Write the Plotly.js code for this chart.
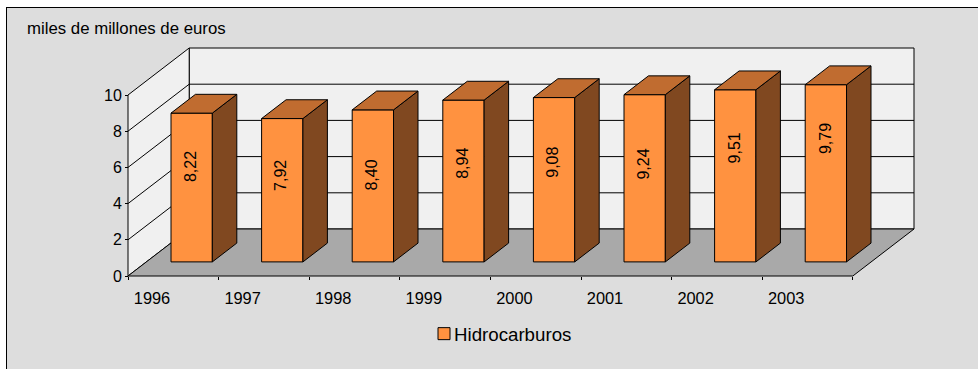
<!DOCTYPE html>
<html>
<head>
<meta charset="utf-8">
<script src="https://cdn.plot.ly/plotly-3.0.1.min.js"></script>
<style>
html,body{margin:0;padding:0;background:#fff;width:978px;height:369px;overflow:hidden}
#panel{position:absolute;left:6px;top:7px;right:0;bottom:0;background:#DDDDDD;border-left:1.5px solid #000;border-top:1.5px solid #000}
#chart{position:absolute;left:0;top:0;width:978px;height:369px}
</style>
</head>
<body>
<div id="panel"></div>
<div id="chart"></div>
<script>
// ----- data -----
const years = ['1996','1997','1998','1999','2000','2001','2002','2003'];
const hidrocarburos = [8.22,7.92,8.40,8.94,9.08,9.24,9.51,9.79];
const valueTicks = [0,2,4,6,8,10];
const seriesName = 'Hidrocarburos';
const unitTitle = 'miles de millones de euros';

// ----- oblique projection (in axis units) -----
const pxX = 90.6, pxY = 18.1, pad = 10;
const plotL = 128, plotR = 914, plotT = 48, plotB = 276;
const n = years.length, yMax = 10;
const DX = (plotR - plotL - n * pxX) / pxX;      // wall depth along x
const DY = (plotB - plotT - yMax * pxY) / pxY;   // wall depth along y
const barW = 0.456, nearT = 0.30, farT = 0.70;
const base = DY * nearT, bdx = DX * (farT - nearT), bdy = DY * (farT - nearT);
const barX = years.map((_, i) => i + 0.5 + DX * nearT);
const labelLevel = [6.05,5.54,5.59,6.22,6.31,6.19,7.06,7.61]; // where each data label sits on the value axis

const xRange = [-pad / pxX, n + DX + pad / pxX];
const yRange = [-pad / pxY, yMax + DY + pad / pxY];

function poly(list) {
  const x = [], y = [];
  list.forEach(p => { p.forEach(q => { x.push(q[0]); y.push(q[1]); }); x.push(p[0][0]); y.push(p[0][1]); x.push(null); y.push(null); });
  return {x, y};
}
function face(list, fill, lineColor, width, xa, ya) {
  const c = poly(list);
  return {type:'scatter', mode:'lines', x:c.x, y:c.y, fill:'toself', fillcolor:fill,
          line:{color:lineColor, width:width}, hoverinfo:'skip', showlegend:false, xaxis:xa, yaxis:ya};
}

const backWall = [[[DX,DY],[n+DX,DY],[n+DX,yMax+DY],[DX,yMax+DY]]];
const leftWall = [[[0,0],[DX,DY],[DX,yMax+DY],[0,yMax]]];
const floor = [[[0,0],[n,0],[n+DX,DY],[DX,DY]]];

const gx = [], gy = [];
valueTicks.filter(v => v > 0 && v < yMax).forEach(v => {
  gx.push(0, DX, n + DX, null); gy.push(v, v + DY, v + DY, null);
});
const grid = {type:'scatter', mode:'lines', x:gx, y:gy, line:{color:'#000', width:1},
              hoverinfo:'skip', showlegend:false, xaxis:'x', yaxis:'y'};

const sides = hidrocarburos.map((v, i) => {
  const r = barX[i] + barW / 2;
  return [[r,base],[r+bdx,base+bdy],[r+bdx,base+v+bdy],[r,base+v]];
});
const tops = hidrocarburos.map((v, i) => {
  const l = barX[i] - barW / 2, r = barX[i] + barW / 2, t = base + v;
  return [[l,t],[r,t],[r+bdx,t+bdy],[l+bdx,t+bdy]];
});

const traces = [
  face(backWall, '#F0F0F0', '#000', 1, 'x', 'y'),
  face(leftWall, '#F0F0F0', '#000', 1, 'x', 'y'),
  face(floor, '#A9A9A9', '#000', 1, 'x', 'y'),
  grid,
  {type:'bar', name:seriesName, x:barX, y:hidrocarburos, base:base, width:barW,
   marker:{color:'#FF9240', line:{color:'#000', width:1}}, hoverinfo:'skip', xaxis:'x2', yaxis:'y2', showlegend:true},
  face(sides, '#804820', '#000', 1, 'x2', 'y2'),
  face(tops, '#C06C30', '#000', 1, 'x2', 'y2')
];

const font = {family:'"Liberation Sans", Arial, sans-serif', size:16, color:'#000'};
const annotations = hidrocarburos.map((v, i) => ({
  x: barX[i] - 0.012, y: labelLevel[i], xref:'x2', yref:'y2',
  text: v.toFixed(2).replace('.', ','), textangle:-90, showarrow:false, font:font
}));

const W = 978, H = 369;
const areaW = plotR - plotL + 2 * pad, areaH = plotB - plotT + 2 * pad;

const layout = {
  width:W, height:H, autosize:false,
  margin:{l:plotL - pad, r:W - plotR - pad, t:plotT - pad, b:H - plotB - pad, pad:0},
  paper_bgcolor:'rgba(0,0,0,0)', plot_bgcolor:'rgba(0,0,0,0)',
  font:font, barmode:'overlay',
  title:{text:unitTitle, font:{family:font.family, size:16.8, color:'#000'}, x:27/W, xref:'container', xanchor:'left', y:1-28/H, yref:'container', yanchor:'middle'},
  xaxis:{range:xRange, showgrid:false, zeroline:false, showline:false, tickmode:'array',
         tickvals:years.map((_, i) => i).concat([n]), ticktext:years.map(() => '').concat(['']),
         ticks:'outside', ticklen:3, tickcolor:'#000', tickwidth:1, showticklabels:false,
         anchor:'free', position:pad / areaH},
  yaxis:{range:yRange, showgrid:false, zeroline:false, showline:false, tickmode:'array',
         tickvals:valueTicks, ticktext:valueTicks.map(String), ticks:'outside', ticklen:3,
         tickcolor:'#000', tickwidth:1, tickfont:font, anchor:'free', position:pad / areaW},
  xaxis2:{range:xRange, overlaying:'x', showgrid:false, zeroline:false, showline:false,
          tickmode:'array', tickvals:years.map((_, i) => i + 0.265), ticktext:years, ticks:'',
          tickfont:{family:font.family, size:16.4, color:'#000'}, ticklabelstandoff:11, anchor:'free', position:pad / areaH, side:'bottom'},
  yaxis2:{range:yRange, overlaying:'y', visible:false, anchor:'x2'},
  legend:{x:(414 - (plotL - pad)) / areaW, xanchor:'left', y:(plotB + pad - 334) / areaH, yanchor:'middle',
          orientation:'v', font:{family:font.family, size:18.7, color:'#000'}, bgcolor:'rgba(0,0,0,0)', borderwidth:0},
  annotations:annotations,
  hovermode:false
};

Plotly.newPlot('chart', traces, layout, {displayModeBar:false, staticPlot:true}).then(() => {
  document.querySelectorAll('#chart .legendsymbols').forEach(g => g.setAttribute('transform', 'translate(10,0)'));
});
</script>
</body>
</html>
